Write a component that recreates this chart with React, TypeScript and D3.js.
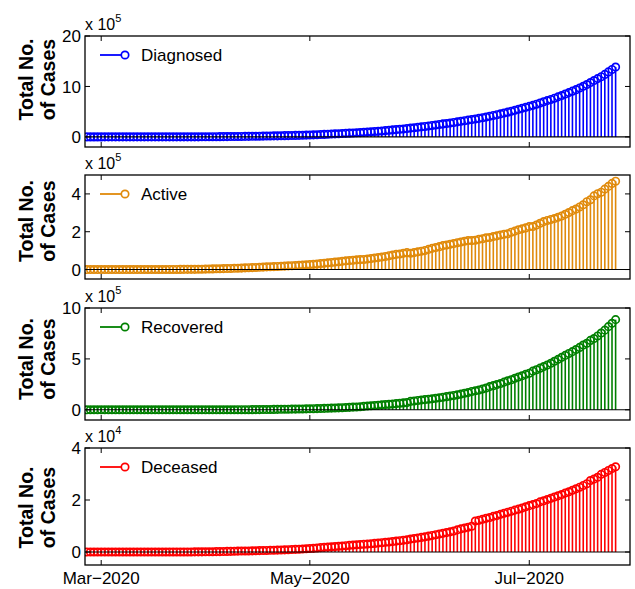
import React from 'react';
import * as d3 from 'd3';

// Daily cumulative counts, 29 Feb 2020 → 25 Jul 2020 (one value per day)
const START_DATE = new Date(2020, 1, 29);

const diagnosed = [
  3,
  3, 5, 6, 28, 30, 31, 34, 39, 48, 63, 71, 81, 91, 102, 112, 126, 146, 171, 198, 256, 334, 403, 497, 571, 657, 730, 883, 1019, 1139, 1326, 1635,
  2059, 2545, 3105, 3684, 4289, 4778, 5311, 5916, 6725, 7598, 8446, 9205, 10453, 11487, 12322, 13430, 14352, 15722, 17615, 18539, 20080, 21370, 23077, 24530, 26283, 27890, 29451, 31324, 33062, 34863,
  37257, 39699, 42505, 46437, 49400, 52987, 56351, 59695, 62808, 67161, 70768, 74292, 78055, 81997, 85784, 90648, 95698, 100328, 106475, 112028, 118226, 124794, 131423, 138536, 144950, 150793, 158086, 165386, 173491, 181827, 190609,
  198370, 207191, 216824, 226713, 236184, 246622, 257486, 265928, 276146, 286579, 297535, 308993, 320922, 332424, 343091, 354065, 366946, 380532, 395048, 410461, 425282, 440215, 456183, 473105, 490401, 508953, 528859, 548318, 566840, 585481,
  604641, 625544, 648315, 673165, 697413, 719664, 742417, 767296, 793802, 820916, 849553, 878254, 906752, 936181, 968876, 1003832, 1038716, 1077781, 1118043, 1155191, 1193078, 1238635, 1288108, 1337022, 1385635,
];

const active = [
  0,
  0, 2, 3, 25, 27, 28, 31, 36, 45, 59, 67, 76, 79, 90, 97, 110, 129, 153, 174, 228, 306, 372, 453, 519, 602, 665, 796, 910, 1010, 1149, 1441,
  1832, 2282, 2790, 3299, 3825, 4253, 4712, 5184, 5859, 6536, 7146, 7767, 8869, 9720, 10347, 11195, 11817, 12700, 14169, 14621, 15424, 16279, 17285, 18207, 19463, 20428, 21306, 22498, 23471, 24572,
  25927, 27489, 29164, 31897, 33473, 35767, 37590, 39707, 41295, 43898, 45804, 47321, 49006, 51275, 52655, 53430, 55874, 57931, 60863, 63171, 66089, 69243, 73170, 76820, 80072, 82021, 85803, 89570, 85884, 89658, 93349,
  97008, 101077, 106665, 111900, 116302, 120981, 126431, 129362, 133726, 137448, 141842, 145779, 149348, 153215, 152871, 155228, 160271, 163248, 168269, 169451, 174387, 178014, 183022, 186514, 189463, 197387, 203051, 210069, 215125, 220169,
  226947, 227439, 235433, 244814, 253287, 259571, 264944, 269789, 276685, 283407, 292261, 301609, 311565, 319840, 331146, 342473, 358692, 368716, 389562, 401178, 409073, 425427, 439797, 455494, 467287,
];

const recovered = [
  3,
  3, 3, 3, 3, 3, 3, 3, 3, 3, 4, 4, 4, 10, 10, 13, 14, 14, 15, 20, 23, 23, 24, 34, 40, 43, 45, 67, 85, 102, 137, 143,
  169, 191, 229, 286, 328, 375, 421, 506, 620, 774, 969, 1080, 1191, 1362, 1527, 1749, 2014, 2463, 2854, 3273, 3975, 4370, 5012, 5498, 5939, 6523, 7137, 7747, 8437, 9068,
  10007, 10819, 11775, 12847, 14142, 15331, 16776, 17887, 19301, 20969, 22549, 24420, 26400, 27969, 30258, 34224, 36795, 39233, 42309, 45422, 48553, 51824, 54385, 57692, 60706, 64426, 67749, 71105, 82627, 86984, 91852,
  95754, 100285, 104071, 108450, 113233, 118695, 123848, 129095, 134670, 141029, 147195, 154330, 162379, 169689, 180320, 186934, 194438, 204711, 213831, 227756, 237196, 248190, 258685, 271697, 285637, 295881, 309713, 321774, 334822, 347912,
  359860, 379892, 394227, 409083, 424433, 439934, 456831, 476378, 495513, 515386, 534618, 553471, 571460, 592032, 612815, 635757, 653751, 681568, 700399, 725281, 754144, 782607, 816953, 849432, 885577,
];

const deceased = [
  0,
  0, 0, 0, 0, 0, 0, 0, 0, 0, 0, 0, 1, 2, 2, 2, 2, 3, 3, 4, 5, 5, 7, 10, 12, 12, 20, 20, 24, 27, 40, 51,
  58, 72, 86, 99, 136, 150, 178, 226, 246, 288, 331, 358, 393, 405, 448, 486, 521, 559, 592, 645, 681, 721, 780, 825, 881, 939, 1008, 1079, 1154, 1223,
  1323, 1391, 1566, 1693, 1785, 1889, 1985, 2101, 2212, 2294, 2415, 2551, 2649, 2753, 2871, 2994, 3029, 3164, 3303, 3435, 3584, 3727, 3868, 4024, 4172, 4346, 4534, 4711, 4980, 5185, 5408,
  5608, 5829, 6088, 6363, 6649, 6946, 7207, 7471, 7750, 8102, 8498, 8884, 9195, 9520, 9900, 11903, 12237, 12573, 12948, 13254, 13699, 14011, 14476, 14894, 15301, 15685, 16095, 16475, 16893, 17400,
  17834, 18213, 18655, 19268, 19693, 20159, 20642, 21129, 21604, 22123, 22674, 23174, 23727, 24309, 24915, 25602, 26273, 27497, 28082, 28732, 29861, 30601, 31358, 32096, 32771,
];

const seriesNames = ['Diagnosed', 'Active', 'Recovered', 'Deceased'];
const seriesValues = [diagnosed, active, recovered, deceased];
const seriesColors = ['#0000ff', '#e08a0b', '#008000', '#ff0000'];

// Axis limits (in units of 10^exponent) and tick values per panel
const yExponents = [5, 5, 5, 4];
const yLimits: [number, number][] = [[-2, 20], [-0.5, 5], [-1, 10], [-0.5, 4]];
const yTickValues = [[0, 10, 20], [0, 2, 4], [0, 5, 10], [0, 2, 4]];

const xTickDates = [new Date(2020, 2, 4), new Date(2020, 4, 1), new Date(2020, 6, 1)];
const xTickLabels = ['Mar−2020', 'May−2020', 'Jul−2020'];

const yLabelLines = ['Total No.', 'of Cases'];

const W = 635;
const H = 589;
const FONT = '"Liberation Sans", Arial, Helvetica, sans-serif';
const PLOT_LEFT = 85;
const PLOT_RIGHT = 630;
const PANEL_TOPS = [36, 175, 308, 448];
const PANEL_BOTTOMS = [147, 279, 420, 565];
const LABEL_SHIFT = [-12, -6, -5, 1];
const TICK = 5;
const MARK_R = 3.7;
const MARK_W = 1.7;

const dates = diagnosed.map((_, i) => d3.timeDay.offset(START_DATE, i));

const x = d3
  .scaleTime()
  .domain([d3.timeHour.offset(START_DATE, -12), new Date(2020, 6, 29)])
  .range([PLOT_LEFT, PLOT_RIGHT]);

function Panel({ k }: { k: number }) {
  const top = PANEL_TOPS[k];
  const bottom = PANEL_BOTTOMS[k];
  const scale = Math.pow(10, yExponents[k]);
  const y = d3.scaleLinear().domain(yLimits[k]).range([bottom, top]);
  const color = seriesColors[k];
  const vals = seriesValues[k].map((v) => v / scale);
  const y0 = y(0);
  const clipId = `clip-${k}`;
  const labelCy = (top + bottom) / 2 + LABEL_SHIFT[k];
  const legendY = top + 19;

  return (
    <g>
      <defs>
        <clipPath id={clipId}>
          <rect x={PLOT_LEFT} y={top} width={PLOT_RIGHT - PLOT_LEFT} height={bottom - top} />
        </clipPath>
      </defs>
      <rect x={PLOT_LEFT} y={top} width={PLOT_RIGHT - PLOT_LEFT} height={bottom - top} fill="#fff" />
      <g clipPath={`url(#${clipId})`}>
        {vals.map((v, i) => (
          <line
            key={`s${i}`}
            x1={x(dates[i])}
            x2={x(dates[i])}
            y1={y0}
            y2={y(v)}
            stroke={color}
            strokeWidth={1.6}
          />
        ))}
        {vals.map((v, i) => (
          <circle
            key={`c${i}`}
            cx={x(dates[i])}
            cy={y(v)}
            r={MARK_R}
            fill="none"
            stroke={color}
            strokeWidth={MARK_W}
          />
        ))}
        <line x1={PLOT_LEFT} x2={PLOT_RIGHT} y1={y0} y2={y0} stroke="#000" strokeWidth={1.1} />
      </g>

      {/* legend */}
      <line x1={100} x2={125} y1={legendY} y2={legendY} stroke={color} strokeWidth={1.8} />
      <circle cx={125} cy={legendY} r={MARK_R} fill="#fff" stroke={color} strokeWidth={MARK_W} />
      <text x={141} y={legendY} dy="0.35em" fontSize={17} fontFamily={FONT} fill="#000">
        {seriesNames[k]}
      </text>

      {/* y ticks */}
      {yTickValues[k].map((t) => (
        <g key={`yt${t}`}>
          <line x1={PLOT_LEFT} x2={PLOT_LEFT + TICK} y1={y(t)} y2={y(t)} stroke="#000" strokeWidth={1} />
          <line x1={PLOT_RIGHT} x2={PLOT_RIGHT - TICK} y1={y(t)} y2={y(t)} stroke="#000" strokeWidth={1} />
          <text
            x={PLOT_LEFT - 4}
            y={y(t)}
            dy="0.36em"
            textAnchor="end"
            fontSize={17}
            fontFamily={FONT}
            fill="#000"
          >
            {t}
          </text>
        </g>
      ))}

      {/* x ticks */}
      {xTickDates.map((d, i) => (
        <g key={`xt${i}`}>
          <line x1={x(d)} x2={x(d)} y1={bottom} y2={bottom - TICK} stroke="#000" strokeWidth={1} />
          <line x1={x(d)} x2={x(d)} y1={top} y2={top + TICK} stroke="#000" strokeWidth={1} />
          {k === 3 && (
            <text
              x={x(d)}
              y={bottom + 19}
              textAnchor="middle"
              fontSize={17}
              fontFamily={FONT}
              fill="#000"
            >
              {xTickLabels[i]}
            </text>
          )}
        </g>
      ))}

      {/* exponent */}
      <text x={PLOT_LEFT} y={top - 6} fontSize={16} fontFamily={FONT} fill="#000">
        x 10
        <tspan fontSize={11} dy={-8}>
          {yExponents[k]}
        </tspan>
      </text>

      {/* frame */}
      <rect
        x={PLOT_LEFT}
        y={top}
        width={PLOT_RIGHT - PLOT_LEFT}
        height={bottom - top}
        fill="none"
        stroke="#000"
        strokeWidth={1.3}
      />

      {/* y label */}
      {yLabelLines.map((line, j) => (
        <text
          key={line}
          transform={`translate(${j === 0 ? 33 : 55},${labelCy}) rotate(-90)`}
          textAnchor="middle"
          fontSize={19.5}
          fontWeight="bold"
          fontFamily={FONT}
          fill="#000"
        >
          {line}
        </text>
      ))}
    </g>
  );
}

export default function App() {
  return (
    <svg
      width={W}
      height={H}
      viewBox={`0 0 ${W} ${H}`}
      style={{ position: 'absolute', left: 0, top: 0, background: '#fff' }}
    >
      <rect width={W} height={H} fill="#fff" />
      {seriesNames.map((_, k) => (
        <Panel key={k} k={k} />
      ))}
    </svg>
  );
}
